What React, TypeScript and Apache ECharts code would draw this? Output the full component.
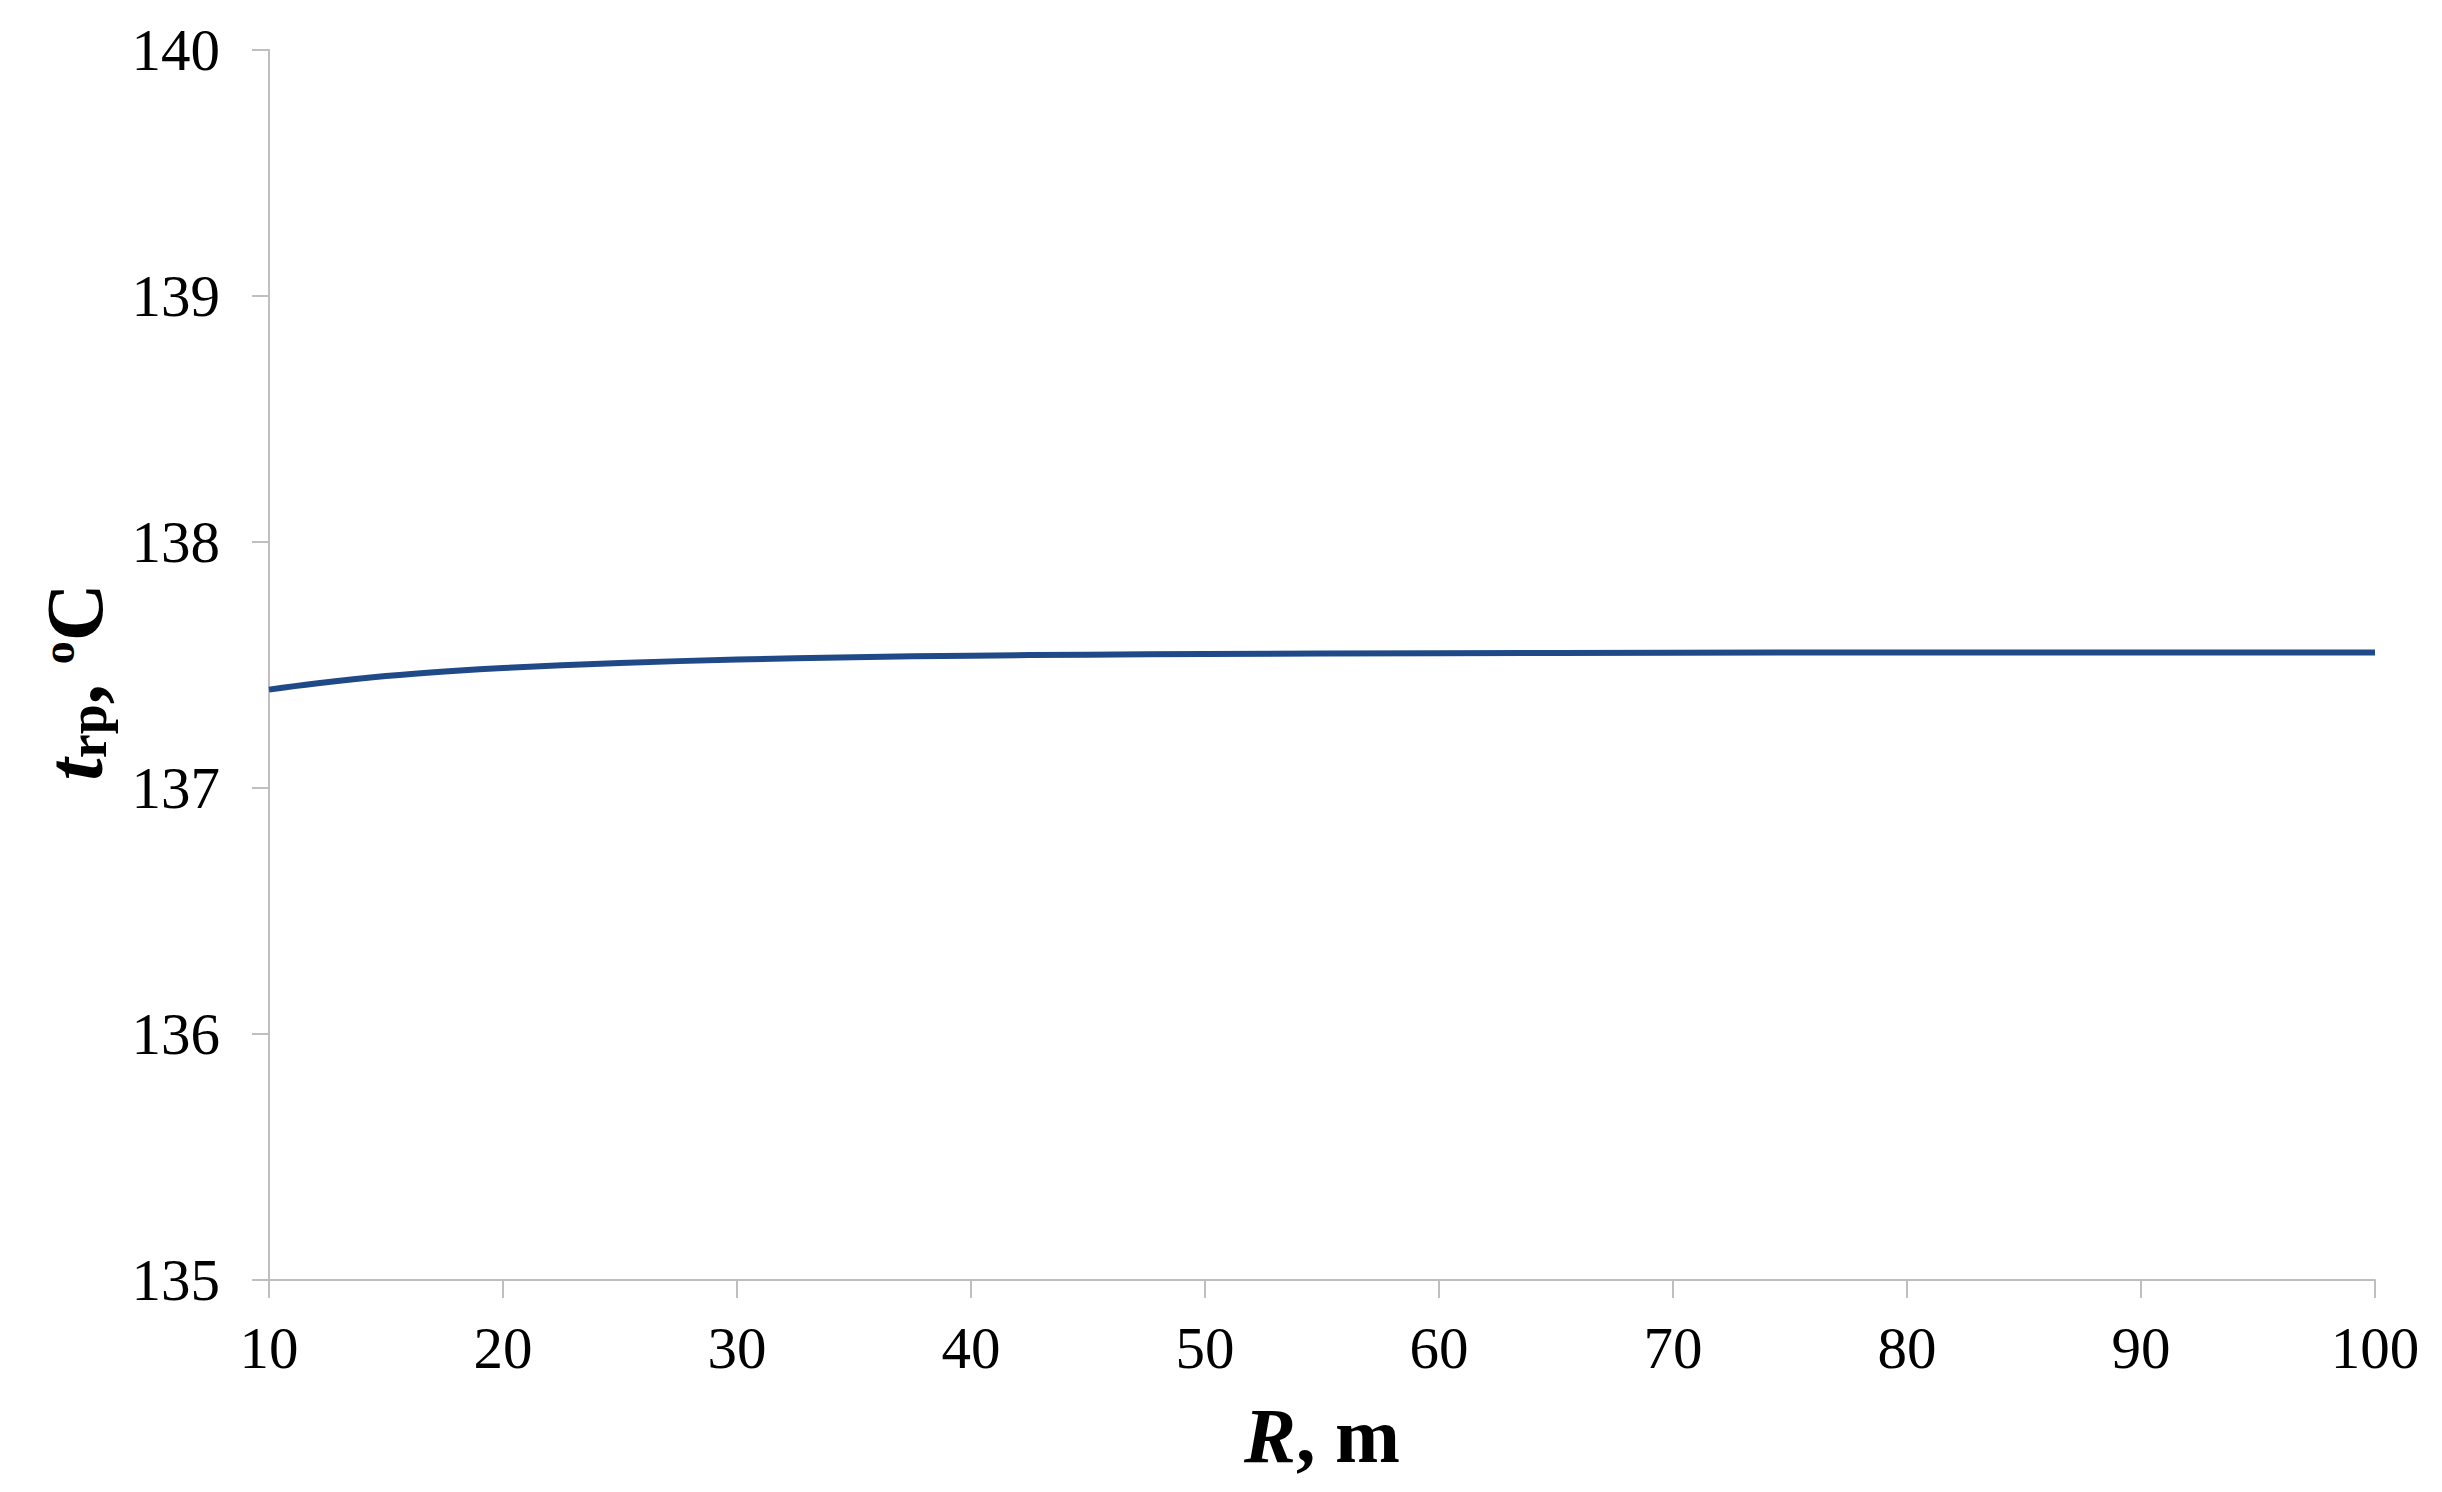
import React, { useEffect, useRef } from "react";
import * as echarts from "echarts";

const radiusM = [10, 12, 15, 18, 20, 25, 30, 35, 40, 45, 50, 60, 70, 80, 90, 100];
const tempC = [137.40, 137.425, 137.455, 137.477, 137.488, 137.508, 137.522, 137.532, 137.538, 137.542, 137.545, 137.548, 137.55, 137.551, 137.551, 137.551];
const yTicks = { min: 135, max: 140, step: 1 };
const xTicks = { min: 10, max: 100, step: 10 };

const FONT = "'Liberation Serif', 'Times New Roman', serif";
const AXIS_GRAY = "#BFBFBF";

export default function App() {
  const ref = useRef<HTMLDivElement>(null);

  useEffect(() => {
    document.body.style.margin = "0";
    if (!ref.current) return;
    const chart = echarts.init(ref.current, undefined, { renderer: "svg" });
    const points = radiusM.map((r, i) => [r, tempC[i]]);
    chart.setOption({
      animation: false,
      backgroundColor: "#ffffff",
      grid: { left: 269, right: 67, top: 50, bottom: 212, containLabel: false },
      xAxis: {
        type: "value",
        min: xTicks.min,
        max: xTicks.max,
        interval: xTicks.step,
        name: "{i|R}{b|, m}",
        nameLocation: "middle",
        nameGap: 116,
        nameTextStyle: {
          fontFamily: FONT,
          fontSize: 78,
          color: "#000",
          rich: {
            i: { fontFamily: FONT, fontSize: 78, fontWeight: "bold", fontStyle: "italic", color: "#000" },
            b: { fontFamily: FONT, fontSize: 78, fontWeight: "bold", color: "#000" },
          },
        },
        axisLine: { show: true, lineStyle: { color: AXIS_GRAY, width: 2 } },
        axisTick: { show: true, length: 18, lineStyle: { color: AXIS_GRAY, width: 2 } },
        axisLabel: { fontFamily: FONT, fontSize: 59, color: "#000", margin: 38 },
        splitLine: { show: false },
      },
      yAxis: {
        type: "value",
        min: yTicks.min,
        max: yTicks.max,
        interval: yTicks.step,
        name: "{t|t}{s|rp}{b|, }{o|o}{b|C}",
        nameLocation: "middle",
        nameGap: 154,
        nameRotate: 90,
        nameTextStyle: {
          fontFamily: FONT,
          fontSize: 80,
          color: "#000",
          lineHeight: 100,
          padding: [0, 34, 0, 0],
          rich: {
            t: { fontFamily: FONT, fontSize: 80, lineHeight: 80, fontWeight: "bold", fontStyle: "italic", color: "#000" },
            s: { fontFamily: FONT, fontSize: 54, lineHeight: 48, fontWeight: "bold", color: "#000", verticalAlign: "bottom" },
            b: { fontFamily: FONT, fontSize: 80, lineHeight: 80, fontWeight: "bold", color: "#000" },
            o: { fontFamily: FONT, fontSize: 46, lineHeight: 58, fontWeight: "bold", color: "#000", verticalAlign: "top" },
          },
        },
        axisLine: { show: true, lineStyle: { color: AXIS_GRAY, width: 2 } },
        axisTick: { show: true, length: 17, lineStyle: { color: AXIS_GRAY, width: 2 } },
        axisLabel: { fontFamily: FONT, fontSize: 59, color: "#000", margin: 49 },
        splitLine: { show: false },
      },
      series: [
        {
          type: "line",
          data: points,
          smooth: 0.4,
          showSymbol: false,
          symbol: "none",
          lineStyle: { color: "#1F4A87", width: 6 },
        },
      ],
    });
    return () => chart.dispose();
  }, []);

  return <div ref={ref} style={{ width: 2442, height: 1492 }} />;
}
